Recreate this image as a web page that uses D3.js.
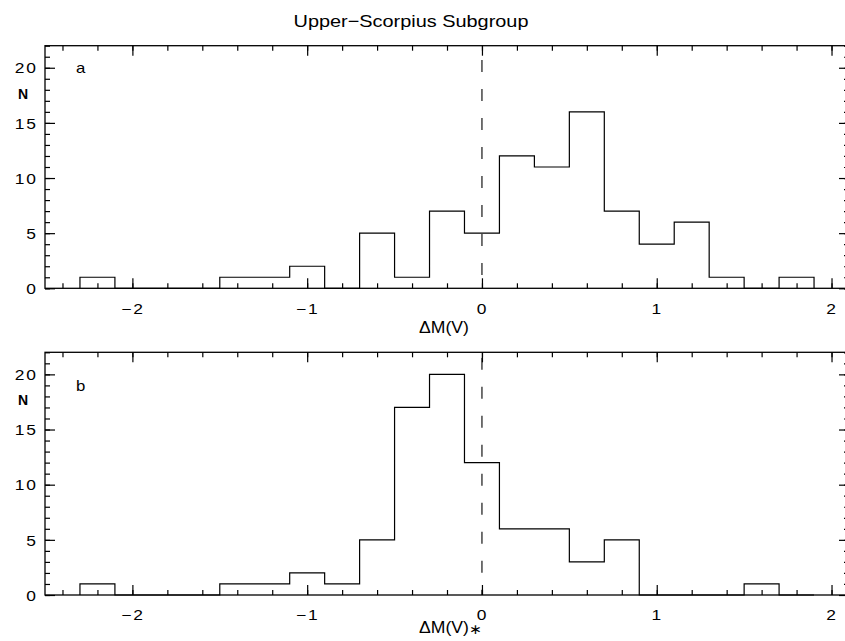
<!DOCTYPE html>
<html>
<head>
<meta charset="utf-8">
<script src="https://cdn.jsdelivr.net/npm/d3@7"></script>
<style>
  html, body { margin: 0; padding: 0; background: #fff; overflow: hidden; }
  svg { display: block; }
  text { font-family: "Liberation Sans", Arial, sans-serif; fill: #000; }
</style>
</head>
<body>
<svg id="chart" width="845" height="641"></svg>
<script>
// Histogram bins: width 0.2 mag, centred on even tenths
const binCenters = [-2.2, -2.0, -1.8, -1.6, -1.4, -1.2, -1.0, -0.8, -0.6, -0.4, -0.2,
                    0.0, 0.2, 0.4, 0.6, 0.8, 1.0, 1.2, 1.4, 1.6, 1.8];
const binWidth = 0.2;

// Panel a: counts of ΔM(V)
const countsA = [1, 0, 0, 0, 1, 1, 2, 0, 5, 1, 7, 5, 12, 11, 16, 7, 4, 6, 1, 0, 1];
// Panel b: counts of ΔM(V)*
const countsB = [1, 0, 0, 0, 1, 1, 2, 1, 5, 17, 20, 12, 6, 6, 3, 5, 0, 0, 0, 1, 0];

// Axis ticks
const xMajor = [-2, -1, 0, 1, 2];
const xMinor = d3.range(-24, 21, 2).map(v => v / 10);
const yMajor = [0, 5, 10, 15, 20];
const yMinor = d3.range(0, 23, 1);

const titleText = "Upper\u2212Scorpius Subgroup";
const fmt = v => (v < 0 ? "\u2212" + Math.abs(v) : String(v));

const svg = d3.select("#chart");

const x = d3.scaleLinear().domain([-2.5, 2.1]).range([45, 849]);

svg.append("text")
  .attr("transform", "translate(411,27) scale(1.17,1)")
  .attr("text-anchor", "middle")
  .attr("font-size", 17)
  .text(titleText);

function drawPanel(counts, top, bottom, letter, letterBase, labelMain, labelSuffix, labelBase, dashOffset) {
  const y = d3.scaleLinear().domain([0, 22]).range([bottom, top]);
  const g = svg.append("g");

  // Step outline of the histogram
  const pts = [[binCenters[0] - binWidth / 2, 0]];
  counts.forEach((c, i) => {
    pts.push([binCenters[i] - binWidth / 2, c]);
    pts.push([binCenters[i] + binWidth / 2, c]);
  });
  pts.push([binCenters[binCenters.length - 1] + binWidth / 2, 0]);
  g.append("path")
    .datum(pts)
    .attr("fill", "none")
    .attr("stroke", "#000")
    .attr("stroke-width", 1.2)
    .attr("d", d3.line().x(d => x(d[0])).y(d => y(d[1])));

  // Dashed zero line
  g.append("line")
    .attr("x1", x(0)).attr("x2", x(0))
    .attr("y1", y(22)).attr("y2", y(0))
    .attr("stroke", "#000")
    .attr("stroke-width", 1.1)
    .attr("stroke-dasharray", "12,17")
    .attr("stroke-dashoffset", dashOffset);

  // Axes with inward ticks on all four sides
  const axes = [
    [d3.axisBottom(x).tickValues(xMinor).tickSize(-5).tickFormat(""), `translate(0,${bottom})`],
    [d3.axisBottom(x).tickValues(xMajor).tickSize(-10).tickPadding(15).tickFormat(fmt), `translate(0,${bottom})`, "xlab"],
    [d3.axisTop(x).tickValues(xMinor).tickSize(-5).tickFormat(""), `translate(0,${top})`],
    [d3.axisTop(x).tickValues(xMajor).tickSize(-10).tickFormat(""), `translate(0,${top})`],
    [d3.axisLeft(y).tickValues(yMinor).tickSize(-5).tickFormat(""), `translate(45,0)`],
    [d3.axisLeft(y).tickValues(yMajor).tickSize(-10).tickPadding(6).tickFormat(fmt), `translate(45,0)`, "ylab"],
    [d3.axisRight(y).tickValues(yMinor).tickSize(-5).tickFormat(""), `translate(849,0)`],
    [d3.axisRight(y).tickValues(yMajor).tickSize(-10).tickFormat(""), `translate(849,0)`]
  ];
  axes.forEach(([ax, tr, kind]) => {
    const a = g.append("g").attr("transform", tr).call(ax.tickSizeOuter(0));
    a.select(".domain").remove();
    a.selectAll(".tick line").attr("stroke", "#000").attr("stroke-width", 1.2);
    a.selectAll(".tick text")
      .attr("font-family", "Liberation Sans, Arial, sans-serif")
      .attr("font-size", 14.5)
      .attr("fill", "#000")
      .attr("letter-spacing", 1.5)
      .attr("transform", "scale(1.2,1)");
    if (kind === "ylab") a.selectAll(".tick text").attr("dy", "0.36em");
  });

  // Frame
  g.append("rect")
    .attr("x", 45).attr("y", top)
    .attr("width", 849 - 45).attr("height", bottom - top)
    .attr("fill", "none")
    .attr("stroke", "#000")
    .attr("stroke-width", 1.3);

  // Panel letter and y label
  g.append("text")
    .attr("transform", `translate(76,${letterBase}) scale(1.2,1)`)
    .attr("font-size", 14)
    .text(letter);
  g.append("text")
    .attr("x", 23).attr("y", top + 53)
    .attr("text-anchor", "middle")
    .attr("font-size", 14)
    .attr("font-weight", "bold")
    .text("N");

  // x-axis label
  const t = g.append("text")
    .attr("transform", `translate(419,${labelBase}) scale(1.1,1)`)
    .attr("font-size", 16);
  t.append("tspan").text(labelMain);
  if (labelSuffix) t.append("tspan").attr("dy", 1).attr("font-size", 14).text(labelSuffix);
}

drawPanel(countsA, 45.7, 288.3, "a", 73, "\u0394M(V)", "", 333, 14.7);
drawPanel(countsB, 352.3, 595, "b", 391, "\u0394M(V)", "\u2217", 633, 23.6);
</script>
</body>
</html>
